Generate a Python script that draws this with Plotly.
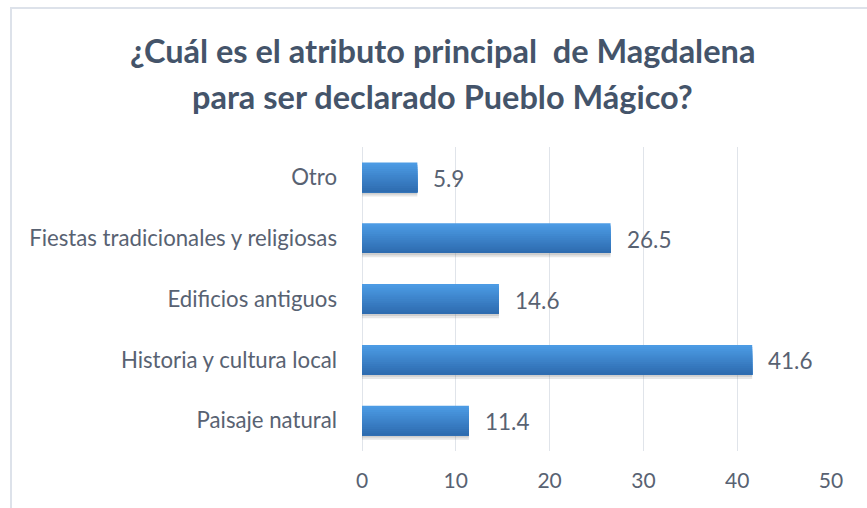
import plotly.graph_objects as go

categories = ["Paisaje natural", "Historia y cultura local", "Edificios antiguos",
              "Fiestas tradicionales y religiosas", "Otro"]
values = [11.4, 41.6, 14.6, 26.5, 5.9]
x_ticks = [0, 10, 20, 30, 40, 50]
title_lines = ["¿Cuál es el atributo principal  de Magdalena",
               "para ser declarado Pueblo Mágico?"]

FONT = "Lato"
TXT = "#586272"
TITLE = "#44546a"

W, H = 867, 508
L, R, T, B = 362, 36, 146.5, 56.5
pw, ph = W - L - R, H - T - B

fig = go.Figure()

bar_w = 0.49
# shadow
fig.add_trace(go.Bar(y=categories, x=values, orientation="h", width=bar_w * 0.35,
                     offset=-bar_w / 2 - 0.07, marker=dict(color="rgba(120,120,120,0.18)", line_width=0),
                     hoverinfo="skip", showlegend=False))
fig.add_trace(go.Bar(y=categories, x=values, orientation="h", width=bar_w * 0.35,
                     offset=-bar_w / 2 - 0.035, marker=dict(color="rgba(120,120,120,0.22)", line_width=0),
                     hoverinfo="skip", showlegend=False))

# gradient bars (top light -> bottom dark)
top = (76, 155, 228)
bot = (46, 108, 176)
N = 14
for i in range(N):
    t = i / (N - 1)
    c = tuple(round(top[k] + (bot[k] - top[k]) * t) for k in range(3))
    frac = 1 - i / N
    fig.add_trace(go.Bar(y=categories, x=values, orientation="h",
                         width=bar_w * frac, offset=-bar_w / 2,
                         marker=dict(color="rgb(%d,%d,%d)" % c, line_width=0),
                         hoverinfo="skip", showlegend=False))

annotations = []
for cat, v in zip(categories, values):
    annotations.append(dict(x=v, y=cat, xref="x", yref="y", text=f"{v:.1f}",
                            showarrow=False, xanchor="left", xshift=14, yshift=-1,
                            font=dict(family=FONT, size=22.5, color=TXT)))

cx = (442 - L) / pw
for line, yp in zip(title_lines, [50, 96]):
    annotations.append(dict(x=cx, y=1 + (T - yp) / ph, xref="paper", yref="paper",
                            text="<b>" + line + "</b>", showarrow=False,
                            xanchor="center", yanchor="middle",
                            font=dict(family=FONT, size=32.5, color=TITLE)))

shapes = [dict(type="rect", xref="paper", yref="paper",
               x0=(11 - L) / pw, x1=(875 - L) / pw,
               y0=(T + ph - 515) / ph, y1=1 + (T - 7) / ph,
               line=dict(color="#dde2ea", width=2), fillcolor="rgba(0,0,0,0)", layer="below")]

fig.update_layout(
    width=W, height=H,
    margin=dict(l=L, r=R, t=T, b=B, pad=0),
    paper_bgcolor="white", plot_bgcolor="white",
    barmode="overlay",
    showlegend=False,
    annotations=annotations,
    shapes=shapes,
    xaxis=dict(range=[0, 50], tickvals=x_ticks, showgrid=True, gridcolor="#e0e4ea", gridwidth=1,
               zeroline=True, zerolinecolor="#e0e4ea", zerolinewidth=1, showline=False,
               ticks="", tickfont=dict(family=FONT, size=21, color=TXT), ticklabelstandoff=15,
               fixedrange=True),
    yaxis=dict(categoryorder="array", categoryarray=categories, showgrid=False, zeroline=False,
               showline=False, ticks="", tickfont=dict(family=FONT, size=22.2, color=TXT),
               ticklabelstandoff=24, range=[-0.5, 4.5], fixedrange=True),
)

fig.write_html("out.html", post_script="document.body.style.margin='0';",
               config={"displayModeBar": False})
